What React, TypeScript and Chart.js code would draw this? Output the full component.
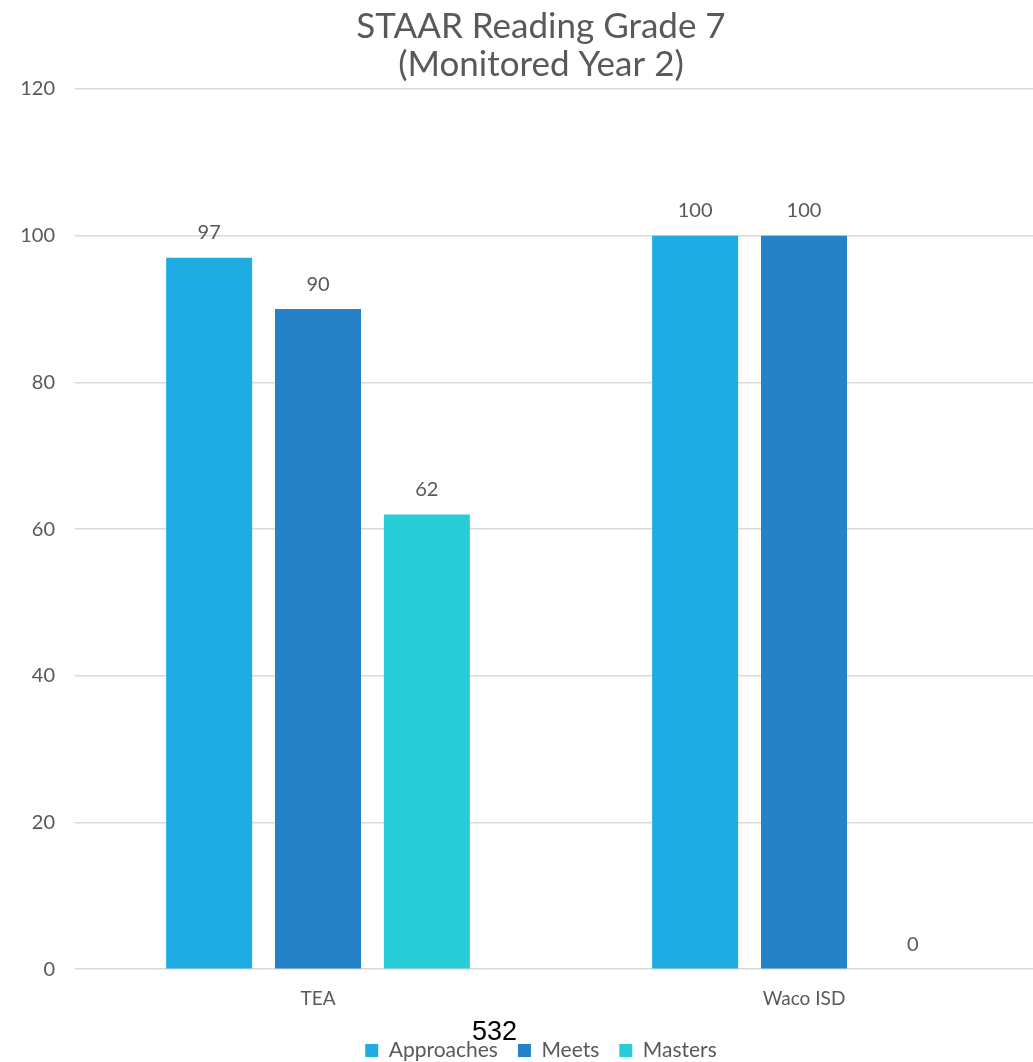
import React, { useEffect, useRef } from "react";
import { Chart, registerables } from "chart.js";

Chart.register(...registerables);

const categories = ["TEA", "Waco ISD"];
const seriesNames = ["Approaches", "Meets", "Masters"];
const approaches = [97, 100];
const meets = [90, 100];
const masters = [62, 0];
const seriesColors = ["#1FACE3", "#2682C6", "#28CDD8"];
const titleLines = ["STAAR Reading Grade 7", "(Monitored Year 2)"];
const yTicks = [0, 20, 40, 60, 80, 100, 120];
const overlayText = "532";

const FONT = "Lato, 'DejaVu Sans', sans-serif";
const TEXT = "#595959";

const labelPlugin = {
  id: "valueLabels",
  afterDatasetsDraw(chart: any) {
    const ctx = chart.ctx;
    ctx.save();
    ctx.font = `20px ${FONT}`;
    ctx.fillStyle = TEXT;
    ctx.textAlign = "center";
    ctx.textBaseline = "middle";
    chart.data.datasets.forEach((ds: any, i: number) => {
      const meta = chart.getDatasetMeta(i);
      meta.data.forEach((bar: any, j: number) => {
        ctx.fillText(String(ds.data[j]), bar.x, bar.y - 25);
      });
    });
    ctx.restore();
  },
};

export default function App() {
  const ref = useRef<HTMLCanvasElement>(null);
  useEffect(() => {
    document.body.style.margin = "0";
    const data = [approaches, meets, masters];
    const chart = new Chart(ref.current!, {
      type: "bar",
      data: {
        labels: categories,
        datasets: seriesNames.map((n, i) => ({
          label: n,
          data: data[i],
          backgroundColor: seriesColors[i],
          borderWidth: 0,
          categoryPercentage: 0.672,
          barPercentage: 0.79,
          yAxisID: "y",
        })),
      },
      options: {
        animation: false,
        responsive: false,
        maintainAspectRatio: false,
        layout: { padding: { top: 7, right: 0, left: 0, bottom: 0 } },
        plugins: {
          title: {
            display: true,
            text: titleLines,
            color: TEXT,
            font: { family: FONT, size: 35, weight: "normal", lineHeight: 1.1 },
            padding: { top: 0, bottom: 5 },
          },
          legend: {
            position: "bottom",
            labels: {
              color: TEXT,
              font: { family: FONT, size: 21 },
              boxWidth: 13,
              boxHeight: 13,
              padding: 20,
            },
          },
          tooltip: { enabled: false },
        },
        scales: {
          x: {
            grid: { display: false },
            border: { display: false },
            ticks: { color: TEXT, font: { family: FONT, size: 19 }, padding: 10 },
          },
          y: {
            min: 0,
            max: 120,
            afterBuildTicks: (scale: any) => {
              scale.ticks = yTicks.map((v) => ({ value: v }));
            },
            afterFit: (scale: any) => {
              scale.width = 75;
            },
            grid: { color: "#D9D9D9", lineWidth: 1.5, drawTicks: false },
            border: { display: false },
            ticks: { color: TEXT, font: { family: FONT, size: 20 }, padding: 20 },
          },
          y2: {
            position: "right",
            min: 0,
            max: 120,
            grid: { display: false, drawTicks: false },
            border: { display: false },
            ticks: { display: false },
            afterFit: (scale: any) => {
              scale.width = 35;
            },
          },
        },
      },
      plugins: [labelPlugin],
    });
    return () => chart.destroy();
  }, []);
  return (
    <div style={{ position: "absolute", left: 0, top: 0, width: 1033, height: 1062, overflow: "hidden" }}>
      <canvas ref={ref} width={1082} height={1071} style={{ width: 1082, height: 1071, display: "block" }} />
      <div
        style={{
          position: "absolute",
          left: 472,
          top: 1018,
          fontFamily: "'Liberation Sans', Arial, sans-serif",
          fontSize: 27,
          color: "#000",
          lineHeight: "27px",
        }}
      >
        {overlayText}
      </div>
    </div>
  );
}
